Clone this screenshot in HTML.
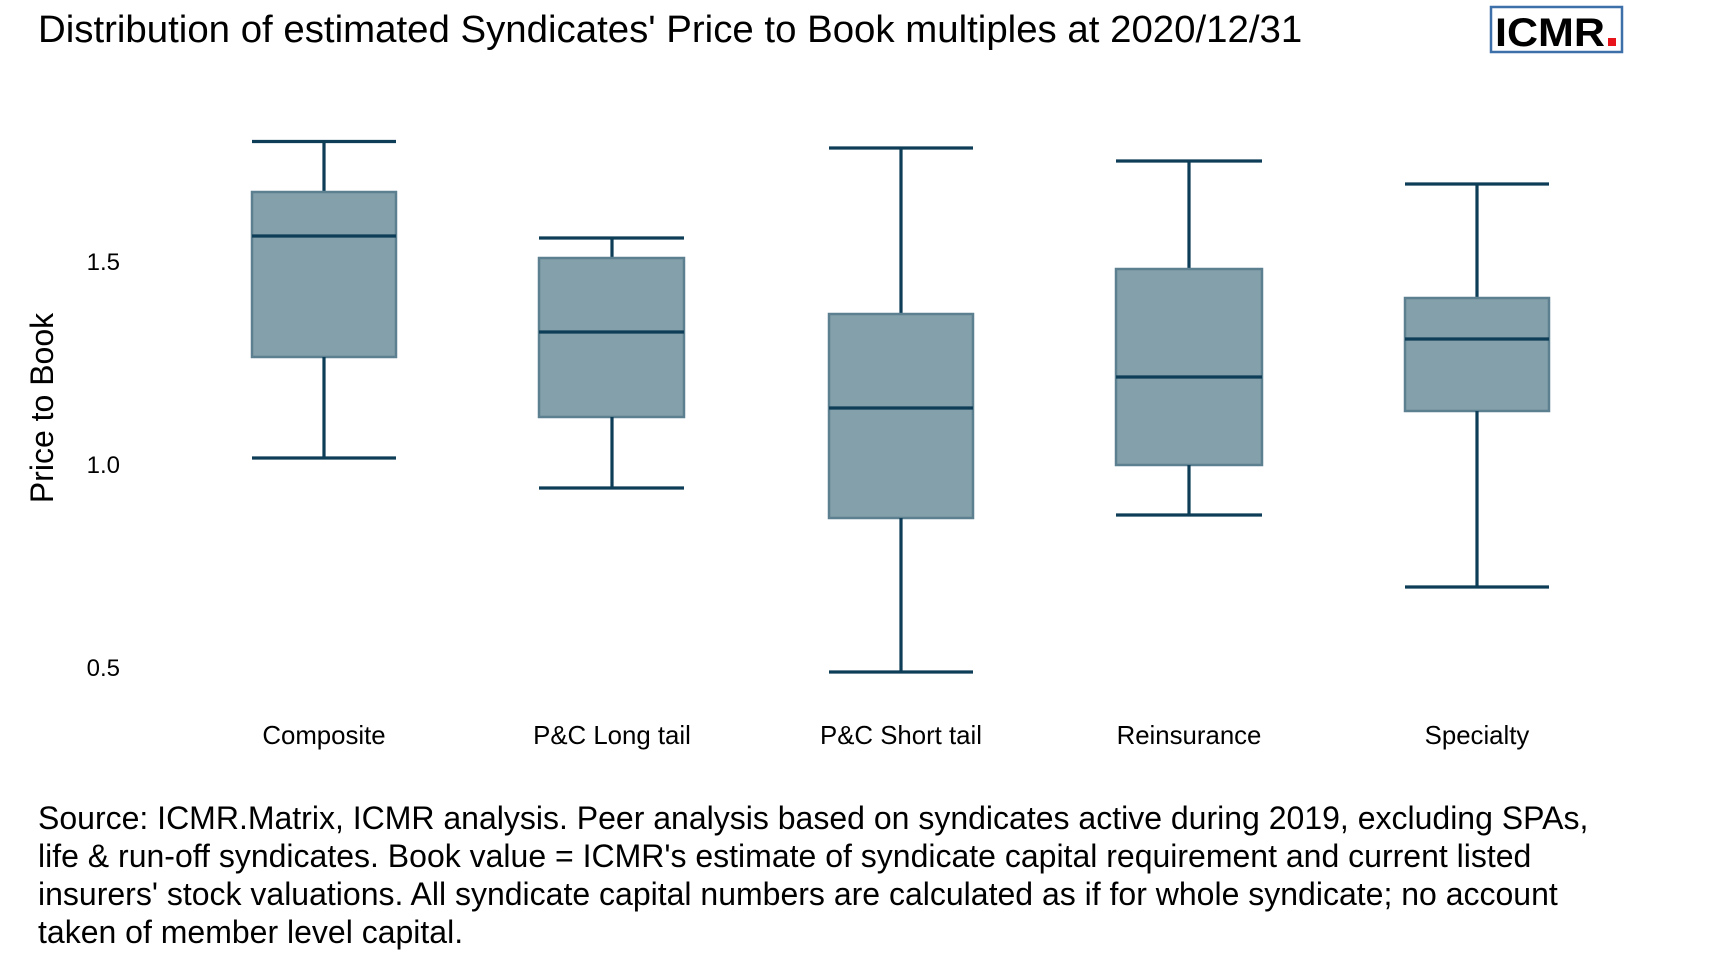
<!DOCTYPE html>
<html><head><meta charset="utf-8"><style>
html,body{margin:0;padding:0;background:#fff;}
svg{display:block;font-family:"Liberation Sans",Arial,sans-serif;}
</style></head><body>
<svg width="1728" height="960" viewBox="0 0 1728 960" xmlns="http://www.w3.org/2000/svg">
<text x="38" y="42" font-size="38.4" fill="#000">Distribution of estimated Syndicates' Price to Book multiples at 2020/12/31</text>
<rect x="1491" y="7" width="131" height="45" fill="#fff" stroke="#3d6fa8" stroke-width="2.5"/>
<text x="1495" y="46" font-size="40" font-weight="bold" fill="#000" textLength="110" lengthAdjust="spacingAndGlyphs">ICMR</text>
<rect x="1608" y="38" width="8" height="8" fill="#e8141b"/>
<g font-size="24" fill="#000" text-anchor="end">
<text x="120" y="270">1.5</text>
<text x="120" y="473">1.0</text>
<text x="120" y="676">0.5</text>
</g>
<text transform="translate(53,408) rotate(-90)" font-size="32" text-anchor="middle" fill="#000">Price to Book</text>
<g stroke="#0d3d57" stroke-width="3.2" fill="none">
<line x1="252" y1="141.5" x2="396" y2="141.5"/><line x1="324" y1="141.5" x2="324" y2="192"/>
<rect x="252" y="192" width="144" height="165" fill="#84a0ab" stroke="#5d8091" stroke-width="2.5"/>
<line x1="252" y1="236" x2="396" y2="236"/>
<line x1="324" y1="357" x2="324" y2="458"/><line x1="252" y1="458" x2="396" y2="458"/>
<line x1="539" y1="238" x2="684" y2="238"/><line x1="612" y1="238" x2="612" y2="258"/>
<rect x="539" y="258" width="145" height="159" fill="#84a0ab" stroke="#5d8091" stroke-width="2.5"/>
<line x1="539" y1="332" x2="684" y2="332"/>
<line x1="612" y1="417" x2="612" y2="488"/><line x1="539" y1="488" x2="684" y2="488"/>
<line x1="829" y1="148" x2="973" y2="148"/><line x1="901" y1="148" x2="901" y2="314"/>
<rect x="829" y="314" width="144" height="204" fill="#84a0ab" stroke="#5d8091" stroke-width="2.5"/>
<line x1="829" y1="408" x2="973" y2="408"/>
<line x1="901" y1="518" x2="901" y2="672"/><line x1="829" y1="672" x2="973" y2="672"/>
<line x1="1116" y1="161" x2="1262" y2="161"/><line x1="1189" y1="161" x2="1189" y2="269"/>
<rect x="1116" y="269" width="146" height="196" fill="#84a0ab" stroke="#5d8091" stroke-width="2.5"/>
<line x1="1116" y1="377" x2="1262" y2="377"/>
<line x1="1189" y1="465" x2="1189" y2="515"/><line x1="1116" y1="515" x2="1262" y2="515"/>
<line x1="1405" y1="184" x2="1549" y2="184"/><line x1="1477" y1="184" x2="1477" y2="298"/>
<rect x="1405" y="298" width="144" height="113" fill="#84a0ab" stroke="#5d8091" stroke-width="2.5"/>
<line x1="1405" y1="339" x2="1549" y2="339"/>
<line x1="1477" y1="411" x2="1477" y2="587"/><line x1="1405" y1="587" x2="1549" y2="587"/>
</g>
<g font-size="25.8" fill="#000" text-anchor="middle">
<text x="324" y="744">Composite</text>
<text x="612" y="744">P&amp;C Long tail</text>
<text x="901" y="744">P&amp;C Short tail</text>
<text x="1189" y="744">Reinsurance</text>
<text x="1477" y="744">Specialty</text>
</g>
<g font-size="32" fill="#000">
<text x="38" y="829">Source: ICMR.Matrix, ICMR analysis. Peer analysis based on syndicates active during 2019, excluding SPAs,</text>
<text x="38" y="867">life &amp; run-off syndicates. Book value = ICMR's estimate of syndicate capital requirement and current listed</text>
<text x="38" y="905">insurers' stock valuations. All syndicate capital numbers are calculated as if for whole syndicate; no account</text>
<text x="38" y="943">taken of member level capital.</text>
</g>
</svg>
</body></html>
